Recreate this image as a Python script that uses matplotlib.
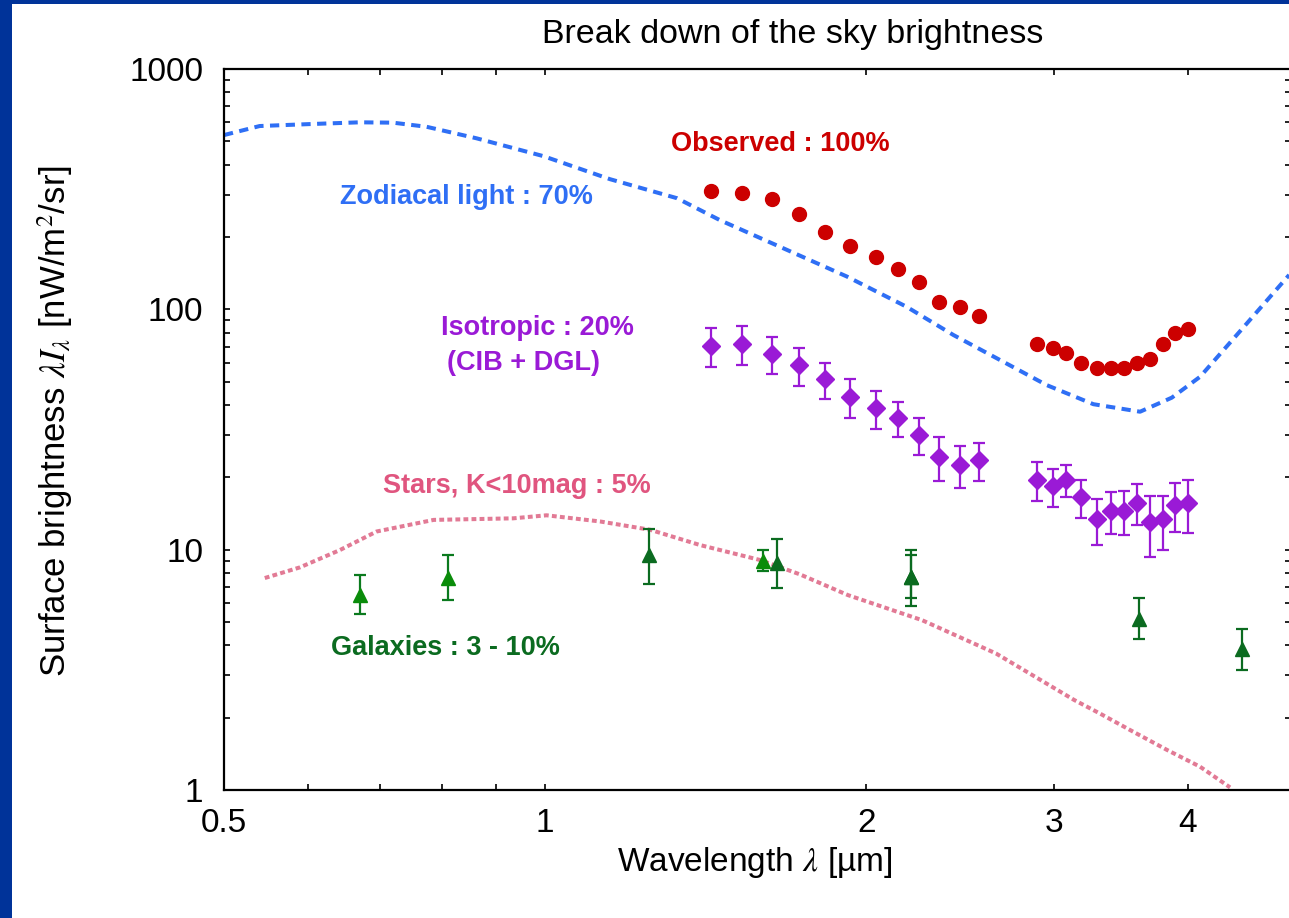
import numpy as np
import matplotlib
matplotlib.use('Agg')
import matplotlib.pyplot as plt
from matplotlib.patches import Rectangle
from matplotlib.ticker import FixedLocator, NullFormatter

plt.rcParams['font.family'] = ['Liberation Sans', 'DejaVu Sans']
plt.rcParams['mathtext.fontset'] = 'stix'

# Observed sky and isotropic component share the same spectral bins (um)
obs_wl = [1.43, 1.53, 1.63, 1.73, 1.83, 1.93, 2.04, 2.14, 2.24, 2.34, 2.45, 2.55,
          2.89, 2.99, 3.08, 3.18, 3.29, 3.39, 3.49, 3.59, 3.69, 3.79, 3.89, 4.00]
obs = [311, 304, 288, 249, 210, 183, 165, 147, 130, 107, 102, 94,
       72, 69, 66, 60, 57, 57, 57, 60, 62, 72, 80, 83]
iso = [70.4, 71.7, 65.2, 58.5, 51.1, 43.3, 38.8, 35.4, 30.0, 24.3, 22.6, 23.5,
       19.5, 18.4, 19.5, 16.5, 13.4, 14.5, 14.5, 15.7, 13.0, 13.4, 15.4, 15.6]
iso_err = [12.9, 13.3, 11.6, 10.3, 8.9, 8.0, 6.9, 5.9, 5.2, 5.0, 4.5, 4.2,
           3.6, 3.3, 2.9, 2.9, 2.9, 2.9, 3.0, 3.0, 3.7, 3.4, 3.6, 3.9]

# Zodiacal light model
zodi_wl = [0.5, 0.54, 0.602, 0.67, 0.72, 0.774, 0.862, 0.996, 1.15, 1.329, 1.458,
           1.66, 1.917, 2.181, 2.413, 2.669, 2.951, 3.264, 3.61, 3.866, 4.109, 4.5, 4.98]
zodi = [531, 579, 590, 600, 598, 575, 515, 434, 348, 290, 235,
        182, 137, 102.5, 78.2, 61.5, 48.4, 40.3, 37.5, 42.9, 52.4, 83, 139]

# Integrated light of stars brighter than K=10
star_wl = [0.546, 0.589, 0.642, 0.695, 0.786, 0.933, 1.003, 1.126, 1.254, 1.397, 1.591,
           1.733, 1.922, 2.255, 2.645, 3.131, 3.311, 3.555, 3.824, 4.109, 4.384]
star = [7.62, 8.44, 9.96, 11.9, 13.3, 13.5, 13.9, 13.1, 12.1, 10.45, 9.05,
        7.89, 6.47, 5.09, 3.70, 2.37, 2.08, 1.75, 1.47, 1.25, 1.025]

# Integrated galaxy counts, two sets of measurements
gal_a_wl = [0.67, 0.81, 1.6]
gal_a = [6.47, 7.59, 8.97]
gal_a_lo = [5.41, 6.15, 8.14]
gal_a_hi = [7.84, 9.47, 9.99]
gal_b_wl = [1.25, 1.65, 2.2, 2.2, 3.6, 4.5]
gal_b = [9.50, 8.82, 7.71, 7.71, 5.14, 3.86]
gal_b_lo = [7.17, 6.92, 5.82, 6.27, 4.26, 3.16]
gal_b_hi = [12.2, 11.1, 9.99, 9.5, 6.27, 4.68]

W, H = 1289, 918
fig = plt.figure(figsize=(W / 100, H / 100), dpi=100, facecolor='#003399')
fig.patches.append(Rectangle((12 / W, 0), 1, (H - 4) / H, transform=fig.transFigure,
                             facecolor='white', edgecolor='none', zorder=-10))

ax = fig.add_axes([224 / W, 1 - 790 / H, 1067 / W, 721 / H])
ax.set_xscale('log')
ax.set_yscale('log')
ax.set_xlim(0.5, 5.0)
ax.set_ylim(1, 1000)

ax.plot(zodi_wl, zodi, color='#2f6ff5', lw=2.9, ls=(0, (2.3, 1.6)), zorder=2)
ax.plot(star_wl, star, color='#e27a95', lw=2.9, ls=(0, (1.2, 0.8)), zorder=2)

ax.plot(obs_wl, obs, 'o', color='#cc0000', ms=10, zorder=4)
ax.errorbar(obs_wl, iso, yerr=iso_err, fmt='D', color='#9a1ad6', ms=9,
            elinewidth=1.6, capsize=4.5, capthick=1.6, zorder=4)

ga = np.array(gal_a)
ax.errorbar(gal_a_wl, gal_a, yerr=[ga - np.array(gal_a_lo), np.array(gal_a_hi) - ga],
            fmt='^', color='#0b7a1e', mfc='#0a8c0a', mec='#0a8c0a', ms=10,
            elinewidth=1.6, capsize=4.5, capthick=1.6, zorder=5)
gb = np.array(gal_b)
ax.errorbar(gal_b_wl, gal_b, yerr=[gb - np.array(gal_b_lo), np.array(gal_b_hi) - gb],
            fmt='^', color='#0b6b20', ms=10,
            elinewidth=1.6, capsize=4.5, capthick=1.6, zorder=5)

# component labels
lab = dict(fontsize=19.5, fontweight='bold', ha='center', va='center')
ax.text(1.66, 488, 'Observed : 100%', color='#cc0000', **lab)
ax.text(0.843, 293, 'Zodiacal light : 70%', color='#2f6ff5', **lab)
ax.text(0.983, 83.5, 'Isotropic : 20%', color='#9a1ad6', **lab)
ax.text(0.954, 59.8, '(CIB + DGL)', color='#9a1ad6', **lab)
ax.text(0.940, 18.4, 'Stars, K<10mag : 5%', color='#e0557f', **lab)
ax.text(0.807, 3.9, 'Galaxies : 3 - 10%', color='#0b6b20', **lab)

# ticks on all four sides, pointing in
ax.xaxis.set_major_locator(FixedLocator([0.5, 1, 2, 3, 4]))
ax.xaxis.set_minor_locator(FixedLocator([0.6, 0.7, 0.8, 0.9]))
ax.set_xticklabels(['0.5', '1', '2', '3', '4'])
ax.xaxis.set_minor_formatter(NullFormatter())
ax.yaxis.set_major_locator(FixedLocator([1, 10, 100, 1000]))
ax.set_yticklabels(['1', '10', '100', '1000'])
ax.yaxis.set_minor_locator(FixedLocator([m * 10 ** e for e in range(3) for m in range(2, 10)]))
ax.yaxis.set_minor_formatter(NullFormatter())
ax.tick_params(which='both', direction='in', top=True, right=True, length=4.5, width=1.2)
ax.tick_params(axis='y', labelsize=24, pad=15)
ax.tick_params(axis='x', labelsize=24, pad=13)
for s in ax.spines.values():
    s.set_linewidth(1.6)

ax.set_xlabel(r'Wavelength $\lambda$ [µm]', fontsize=24, va='center')
ax.xaxis.set_label_coords((755 - 224) / 1067, (790 - 863) / 721)
ax.set_ylabel(r'Surface brightness $\lambda I_\lambda$ [nW/m$^2$/sr]', fontsize=25, va='center')
ax.yaxis.set_label_coords((55 - 224) / 1067, (790 - 421) / 721)

fig.text(793 / W, 1 - 34 / H, 'Break down of the sky brightness', fontsize=24.5,
         ha='center', va='center')

fig.savefig('out.png', dpi=100, facecolor=fig.get_facecolor())
